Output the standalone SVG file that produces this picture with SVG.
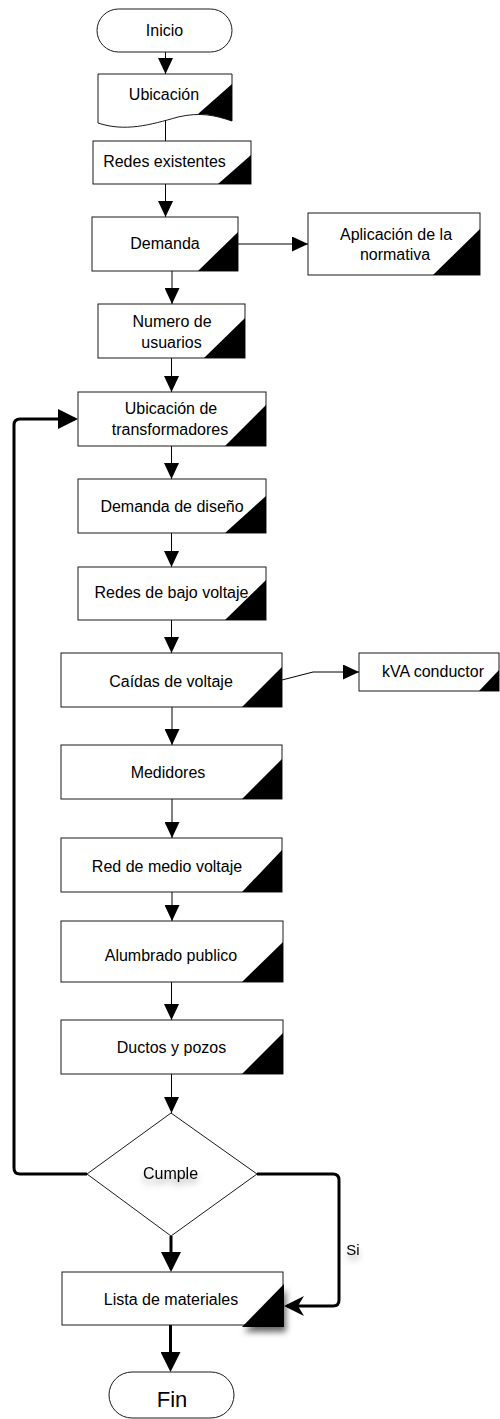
<svg xmlns="http://www.w3.org/2000/svg" width="500" height="1419" viewBox="0 0 500 1419">
<style>
.box{fill:#fff;stroke:#1a1a1a;stroke-width:1}
.tri{fill:#000}
.t{font-family:"Liberation Sans",Arial,sans-serif;font-size:16px;fill:#000;text-anchor:middle}
.c{fill:none;stroke:#000;stroke-width:1}
.k{fill:none;stroke:#000;stroke-width:3;stroke-linejoin:round}
</style>
<defs>
<marker id="a" viewBox="0 0 16 15" refX="16" refY="7.5" markerWidth="16" markerHeight="15" markerUnits="userSpaceOnUse" orient="auto"><path d="M0,0 L16,7.5 L0,15 Z" fill="#000"/></marker>
<marker id="b" viewBox="0 0 20 20" refX="17" refY="10" markerWidth="20" markerHeight="20" markerUnits="userSpaceOnUse" orient="auto"><path d="M0,0 L20,10 L0,20 Z" fill="#000"/></marker>
<marker id="n" viewBox="0 0 20 20" refX="17" refY="10" markerWidth="20" markerHeight="20" markerUnits="userSpaceOnUse" orient="auto"><path d="M0,0 L20,10 L0,20 L6,10 Z" fill="#000"/></marker>
<filter id="sh" x="-50%" y="-50%" width="200%" height="200%"><feDropShadow dx="2" dy="5" stdDeviation="3" flood-color="#000" flood-opacity="0.6"/></filter>
<filter id="ts" x="-30%" y="-50%" width="160%" height="220%"><feDropShadow dx="0" dy="5" stdDeviation="3" flood-color="#000" flood-opacity="0.35"/></filter>
</defs>

<g id="connectors">
<line class="c" x1="165.5" y1="52" x2="165.5" y2="74" marker-end="url(#a)"/>
<line class="c" x1="165.5" y1="121" x2="165.5" y2="141"/>
<line class="c" x1="165.5" y1="184" x2="165.5" y2="217" marker-end="url(#a)"/>
<line class="c" x1="238" y1="244" x2="308" y2="244" marker-end="url(#a)"/>
<line class="c" x1="172" y1="271" x2="172" y2="304" marker-end="url(#a)"/>
<line class="c" x1="171.5" y1="358" x2="171.5" y2="392" marker-end="url(#a)"/>
<line class="c" x1="171.5" y1="446" x2="171.5" y2="479" marker-end="url(#a)"/>
<line class="c" x1="171.5" y1="533" x2="171.5" y2="567" marker-end="url(#a)"/>
<line class="c" x1="171.5" y1="620" x2="171.5" y2="653" marker-end="url(#a)"/>
<path class="c" d="M282,680 L313,672 H359" marker-end="url(#a)"/>
<line class="c" x1="172" y1="707" x2="172" y2="745" marker-end="url(#a)"/>
<line class="c" x1="172" y1="799" x2="172" y2="838" marker-end="url(#a)"/>
<line class="c" x1="172" y1="892" x2="172" y2="921" marker-end="url(#a)"/>
<line class="c" x1="171.5" y1="982" x2="171.5" y2="1020" marker-end="url(#a)"/>
<line class="c" x1="171.5" y1="1074" x2="171.5" y2="1113" marker-end="url(#a)"/>
<path class="k" d="M87,1174 H20 Q14,1174 14,1168 V425 Q14,419 20,419 H75" marker-end="url(#b)"/>
<path class="k" d="M257,1174 H333 Q339,1174 339,1180 V1300 Q339,1306 333,1306 H287" marker-end="url(#n)"/>
<path class="k" d="M171,1236 V1269" marker-end="url(#b)"/>
<path class="k" d="M170.5,1325 V1369" marker-end="url(#b)"/>
<text class="t" x="353" y="1255" style="font-size:15px" filter="url(#ts)">Si</text>
</g>

<g id="inicio">
<rect class="box" x="97" y="9" width="135" height="43" rx="21.5"/>
<text class="t" x="164.5" y="35.5">Inicio</text>
</g>

<g id="ubicacion">
<path class="box" d="M98,74 H232 V121 C214,115 200,112 178,117 C150,125 125,132 98,123 Z"/>
<path class="tri" d="M232,84 V121 C220,117 210,114 198,114 Z"/>
<text class="t" x="164" y="99.5">Ubicación</text>
</g>

<g id="redes-existentes">
<rect class="box" x="93" y="141" width="158" height="43"/>
<polygon class="tri" points="251,155 251,184 218,184"/>
<text class="t" x="164.5" y="167">Redes existentes</text>
</g>

<g id="demanda">
<rect class="box" x="92" y="217" width="146" height="54"/>
<polygon class="tri" points="238,232 238,271 198,271"/>
<text class="t" x="165" y="249">Demanda</text>
</g>

<g id="aplicacion">
<rect class="box" x="308" y="213" width="172" height="62"/>
<polygon class="tri" points="480,229 480,275 433,275"/>
<text class="t" x="396" y="239.5">Aplicación de la</text>
<text class="t" x="395" y="260">normativa</text>
</g>

<g id="numero-usuarios">
<rect class="box" x="98" y="304" width="147" height="54"/>
<polygon class="tri" points="245,318 245,358 204,358"/>
<text class="t" x="172" y="327">Numero de</text>
<text class="t" x="171.5" y="348">usuarios</text>
</g>

<g id="ubicacion-transformadores">
<rect class="box" x="78" y="392" width="188" height="54"/>
<polygon class="tri" points="266,405 266,446 225,446"/>
<text class="t" x="171" y="413.5">Ubicación de</text>
<text class="t" x="170" y="435">transformadores</text>
</g>

<g id="demanda-diseno">
<rect class="box" x="78" y="479" width="188" height="54"/>
<polygon class="tri" points="266,496 266,533 225,533"/>
<text class="t" x="172" y="512">Demanda de diseño</text>
</g>

<g id="redes-bajo-voltaje">
<rect class="box" x="78" y="567" width="188" height="53"/>
<polygon class="tri" points="266,580 266,620 225,620"/>
<text class="t" x="171.5" y="598">Redes de bajo voltaje</text>
</g>

<g id="caidas">
<rect class="box" x="61" y="653" width="221" height="54"/>
<polygon class="tri" points="282,667 282,707 242,707"/>
<text class="t" x="171" y="687">Caídas de voltaje</text>
</g>

<g id="kva">
<rect class="box" x="359" y="653" width="140" height="38"/>
<polygon class="tri" points="499,670 499,691 479,691"/>
<text class="t" x="433" y="677">kVA conductor</text>
</g>

<g id="medidores">
<rect class="box" x="61" y="745" width="221" height="54"/>
<polygon class="tri" points="282,759 282,799 242,799"/>
<text class="t" x="168" y="778">Medidores</text>
</g>

<g id="red-medio-voltaje">
<rect class="box" x="61" y="838" width="221" height="54"/>
<polygon class="tri" points="282,850 282,892 242,892"/>
<text class="t" x="167" y="872">Red de medio voltaje</text>
</g>

<g id="alumbrado">
<rect class="box" x="61" y="921" width="222" height="61"/>
<polygon class="tri" points="283,942 283,982 242,982"/>
<text class="t" x="171" y="961">Alumbrado publico</text>
</g>

<g id="ductos">
<rect class="box" x="61" y="1020" width="222" height="54"/>
<polygon class="tri" points="283,1033 283,1074 242,1074"/>
<text class="t" x="171.5" y="1053">Ductos y pozos</text>
</g>

<g id="cumple">
<polygon class="box" points="171,1113 257,1174 171,1236 87,1174"/>
<text class="t" x="170.5" y="1179" filter="url(#ts)">Cumple</text>
</g>

<g id="lista-materiales">
<rect class="box" x="62" y="1272" width="221" height="53"/>
<polygon class="tri" points="284,1284 284,1327 242,1327" filter="url(#sh)"/>
<text class="t" x="171" y="1305">Lista de materiales</text>
</g>

<g id="fin">
<rect class="box" x="109" y="1372" width="125" height="46" rx="23"/>
<text class="t" x="172" y="1407" style="font-size:22px">Fin</text>
</g>
</svg>
